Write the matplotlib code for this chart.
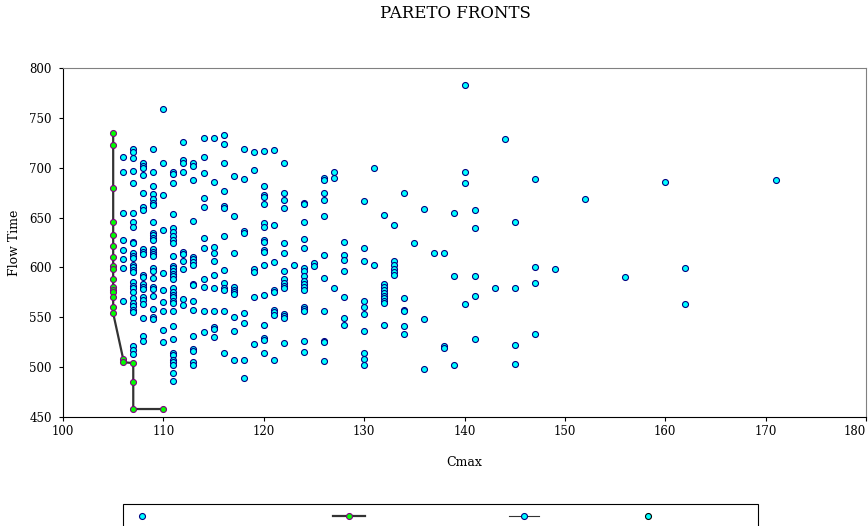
import numpy as np
import matplotlib
matplotlib.use('Agg')
import matplotlib.pyplot as plt
from matplotlib.lines import Line2D
from matplotlib.patches import Rectangle

plt.rcParams['font.family'] = 'DejaVu Serif'

# all evaluated schedules, grouped by their Cmax value
cmax_groups = [106, 107, 108, 109, 110, 111, 112, 113, 114, 115, 116, 117, 118, 119,
               120, 121, 122, 123, 124, 125, 126, 127, 128, 130, 131, 132, 133, 134,
               135, 136, 137, 138, 139, 140, 141, 143, 144, 145, 147, 149, 152, 156,
               160, 162, 171]
flow_groups = [
    [711, 696, 655, 628, 617, 608, 599, 566],
    [719, 716, 710, 697, 685, 655, 646, 641, 626, 624, 614, 611, 609, 602, 600, 597, 595,
     585, 581, 579, 575, 569, 564, 561, 557, 555, 521, 517, 513],
    [705, 702, 700, 693, 675, 661, 658, 618, 615, 613, 592, 590, 583, 580, 578, 570, 567,
     563, 549, 531, 526],
    [719, 696, 682, 674, 669, 665, 663, 646, 635, 633, 630, 628, 618, 615, 613, 611, 599,
     596, 589, 580, 578, 571, 558, 550, 548],
    [759, 705, 673, 638, 594, 577, 565, 556, 537, 525],
    [696, 694, 685, 654, 640, 636, 632, 628, 625, 611, 601, 599, 596, 593, 591, 588, 579,
     575, 572, 570, 566, 564, 556, 541, 528, 514, 512, 507, 505, 502, 494, 486],
    [726, 708, 705, 696, 615, 613, 606, 598, 568, 562],
    [705, 702, 688, 647, 610, 608, 605, 602, 583, 582, 566, 557, 531, 518, 516, 505, 502],
    [730, 711, 695, 670, 661, 630, 619, 588, 580, 556, 535],
    [730, 686, 620, 614, 606, 592, 579, 556, 540, 538, 530],
    [733, 724, 705, 677, 662, 660, 632, 597, 584, 579, 577, 556, 514],
    [692, 652, 614, 580, 577, 575, 573, 550, 536, 507],
    [719, 689, 637, 635, 554, 544, 507, 489],
    [716, 698, 598, 595, 570, 523],
    [717, 682, 673, 671, 664, 645, 641, 628, 626, 617, 615, 602, 572, 542, 529, 527, 514],
    [718, 643, 605, 577, 575, 557, 555, 552, 507],
    [705, 675, 668, 660, 625, 614, 596, 588, 584, 581, 579, 553, 551, 549, 524],
    [602],
    [665, 664, 646, 629, 619, 599, 596, 591, 586, 583, 580, 577, 560, 558, 556, 526, 515],
    [604, 601],
    [690, 688, 675, 668, 652, 612, 589, 556, 526, 525, 506],
    [696, 690, 579],
    [626, 612, 607, 596, 570, 549, 542],
    [667, 619, 606, 566, 560, 553, 536, 514, 508, 502],
    [700, 602],
    [653, 583, 580, 577, 574, 571, 569, 566, 564, 542],
    [643, 606, 602, 598, 595, 592],
    [675, 569, 557, 556, 541, 533],
    [624],
    [659, 548, 498],
    [614],
    [614, 521, 519],
    [655, 591, 502],
    [783, 696, 685, 563],
    [658, 640, 591, 571, 528],
    [579],
    [729],
    [646, 579, 522, 503],
    [689, 600, 584, 533],
    [598],
    [669],
    [590],
    [686],
    [599, 563],
    [688],
]

# non-dominated front
pareto_cmax = [105, 105, 105, 105, 105, 105, 105, 105, 105, 105, 105, 105, 105, 105, 105, 105,
               106, 106, 107, 107, 107, 110]
pareto_flow = [735, 723, 680, 646, 633, 621, 610, 601, 598, 588, 580, 577, 575, 570, 560, 554,
               508, 505, 504, 485, 458, 458]

sol_cmax = np.repeat(cmax_groups, [len(f) for f in flow_groups])
sol_flow = np.concatenate([np.array(f) for f in flow_groups])

W, H = 868, 526
MS = 4.3
fig = plt.figure(figsize=(W / 100, H / 100), dpi=100)
ax = fig.add_axes([63 / W, 1 - 417 / H, (866 - 63) / W, (417 - 68) / H])

ax.plot(sol_cmax, sol_flow, ls='none', marker='o', ms=MS, mfc='#00ffff', mec='#000080', mew=0.8)
ax.plot(pareto_cmax, pareto_flow, color='#333333', lw=1.6, marker='o', ms=MS,
        mfc='#00ff00', mec='#800080', mew=0.8)

ax.set_xlim(100, 180)
ax.set_ylim(450, 800)
ax.set_xticks(range(100, 181, 10))
xlabels = ax.set_xticklabels([str(v) for v in range(100, 181, 10)])
xlabels[-1].set_horizontalalignment('right')
ax.set_yticks(range(450, 801, 50))
ax.tick_params(direction='out', length=3, width=0.8, labelsize=8.5, colors='black')
ax.tick_params(axis='y', pad=5)
ax.tick_params(axis='x', pad=3)
for side in ['top', 'right']:
    ax.spines[side].set_color('#808080')
    ax.spines[side].set_linewidth(0.8)
for side in ['left', 'bottom']:
    ax.spines[side].set_color('black')
    ax.spines[side].set_linewidth(0.8)

ax.set_xlabel('Cmax', fontsize=9, labelpad=13)
ax.set_ylabel('Flow Time', fontsize=9, labelpad=6)
fig.text(455 / W, 1 - 14 / H, 'PARETO FRONTS', ha='center', va='center', fontsize=12)

# legend box along the bottom edge, entries without text
fig.add_artist(Rectangle((123 / W, -0.05), 635 / W, 1 - 504 / H + 0.05,
                         transform=fig.transFigure, fill=False, ec='black', lw=0.8))
keys = [
    (142, 1.0, Line2D([], [], ls='none', marker='o', ms=MS, mfc='#00ffff', mec='#000080', mew=0.8)),
    (349, 2.3, Line2D([], [], color='#333333', lw=1.6, marker='o', ms=MS, mfc='#00ff00',
                      mec='#800080', mew=0.8)),
    (524, 2.1, Line2D([], [], color='#333333', lw=0.8, marker='o', ms=MS, mfc='#00ffff',
                      mec='#000080', mew=0.8)),
    (648, 1.0, Line2D([], [], ls='none', marker='o', ms=MS, mfc='#00ffff', mec='black', mew=0.8)),
]
for px, hl, h in keys:
    fig.legend(handles=[h], labels=[''], loc='center', bbox_to_anchor=(px / W, 1 - 517 / H),
               frameon=False, handlelength=hl, handletextpad=0, borderpad=0,
               borderaxespad=0, fontsize=10)

fig.savefig('out.png', dpi=100)
